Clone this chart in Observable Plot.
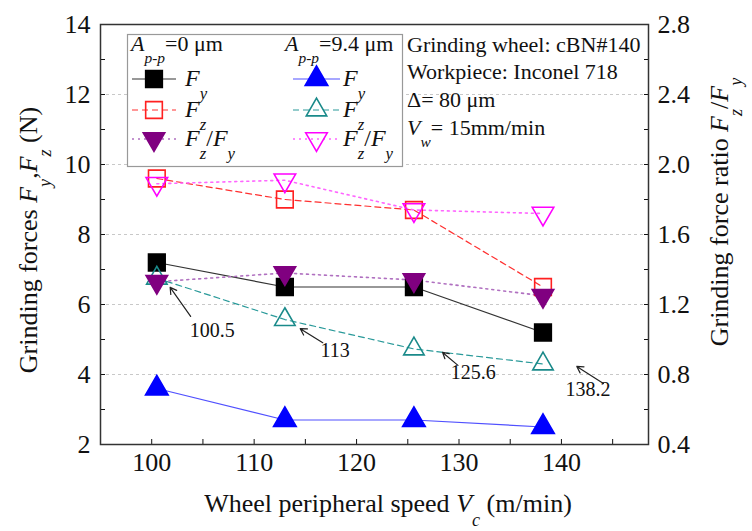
<!DOCTYPE html>
<html>
<head>
<meta charset="utf-8">
<script src="https://cdn.jsdelivr.net/npm/d3@7"></script>
<script src="https://cdn.jsdelivr.net/npm/@observablehq/plot@0.6"></script>
<style>
  html, body { margin: 0; padding: 0; background: #fff; }
  #chart svg { display: block; }
</style>
</head>
<body>
<div id="chart"></div>
<script>
// ---- Data ----
const speed = [100.5, 113, 125.6, 138.2];
const fy0 = [7.2, 6.5, 6.5, 5.2];          // Fy, Ap-p = 0 µm (N)
const fz0 = [9.6, 9.0, 8.7, 6.5];          // Fz, Ap-p = 0 µm (N)
const ratio0 = [1.33, 1.38, 1.34, 1.25];   // Fz/Fy, Ap-p = 0 µm
const fy94 = [3.6, 2.7, 2.7, 2.5];         // Fy, Ap-p = 9.4 µm (N)
const fz94 = [6.75, 5.57, 4.73, 4.3];      // Fz, Ap-p = 9.4 µm (N)
const ratio94 = [1.89, 1.91, 1.74, 1.72];  // Fz/Fy, Ap-p = 9.4 µm

const xTicks = [100, 105, 110, 115, 120, 125, 130, 135, 140, 145];
const yTicks = [2, 3, 4, 5, 6, 7, 8, 9, 10, 11, 12, 13, 14];
const ratioTicks = [0.4, 0.6, 0.8, 1.0, 1.2, 1.4, 1.6, 1.8, 2.0, 2.2, 2.4, 2.6, 2.8];
const gridY = [4, 6, 8, 10, 12];

// annotations (speed labels)
const annLabels = ["100.5", "113", "125.6", "138.2"];
const annTextX = [105.9, 117.9, 131.4, 142.6];
const annTextY = [5.26, 4.69, 4.06, 3.57];
const annTailX = [103.8, 116.7, 129.9, 144.1];
const annTailY = [5.66, 4.91, 4.26, 3.74];
const annHeadX = [101.8, 114.5, 128.4, 141.5];
const annHeadY = [6.49, 5.31, 4.63, 4.23];

const RATIO_FACTOR = 5; // right axis 0.4..2.8 maps onto left 2..14

const rows = (ys) => speed.map((s, i) => ({x: s, y: ys[i]}));
const ann = annLabels.map((t, i) => ({
  label: t, lx: annTextX[i], ly: annTextY[i],
  tx: annTailX[i], ty: annTailY[i], hx: annHeadX[i], hy: annHeadY[i]
}));

const triDown = {
  draw(ctx, size) {
    const s3 = Math.sqrt(3);
    const y = -Math.sqrt(size / (s3 * 3));
    ctx.moveTo(0, -y * 2);
    ctx.lineTo(-s3 * y, y);
    ctx.lineTo(s3 * y, y);
    ctx.closePath();
  }
};

const FONT = "'Liberation Serif', 'Times New Roman', serif";

const lineSpec = [
  {data: fy0, stroke: "#333", dash: null, w: 1.2},
  {data: fz0, stroke: "#ff3030", dash: "6,4", w: 1.2},
  {data: fy94, stroke: "#5050ff", dash: null, w: 1.2},
  {data: fz94, stroke: "#2a9a9a", dash: "6,4", w: 1.2},
  {data: ratio0.map(v => v * RATIO_FACTOR), stroke: "#b070c0", dash: "2,4", w: 1.6},
  {data: ratio94.map(v => v * RATIO_FACTOR), stroke: "#ff66ff", dash: "2,4", w: 1.6}
];

const dotSpec = [
  {data: fy0, symbol: "square", r: 9.4, fill: "#000", stroke: "#000"},
  {data: fz0, symbol: "square", r: 9.4, fill: "none", stroke: "#ff2020"},
  {data: fy94, symbol: "triangle", r: 8.4, fill: "#0000ff", stroke: "#0000ff"},
  {data: fz94, symbol: "triangle", r: 7.6, fill: "none", stroke: "#1a8a8a"},
  {data: ratio0.map(v => v * RATIO_FACTOR), symbol: triDown, r: 8.0, fill: "#800080", stroke: "#800080"},
  {data: ratio94.map(v => v * RATIO_FACTOR), symbol: triDown, r: 8.0, fill: "none", stroke: "#ff00ff"}
];

const chart = Plot.plot({
  width: 752,
  height: 531,
  marginLeft: 100,
  marginRight: 104,
  marginTop: 24,
  marginBottom: 87,
  style: {fontFamily: FONT, fontSize: "26px", background: "#fff", color: "#111"},
  x: {domain: [95, 148.5]},
  y: {domain: [2, 14]},
  marks: [
    Plot.ruleY(gridY, {stroke: "#c8c8c8", strokeDasharray: "3,3"}),
    Plot.axisX({ticks: xTicks, tickSize: -5, tickPadding: 13, label: null,
      tickFormat: d => d % 10 === 0 ? String(d) : "", fontSize: 26}),
    Plot.axisY({ticks: yTicks, tickSize: -5, tickPadding: 15, label: null,
      tickFormat: d => d % 2 === 0 ? String(d) : "", fontSize: 26}),
    Plot.axisY({anchor: "right", ticks: ratioTicks.map(v => v * RATIO_FACTOR), tickSize: -5, tickPadding: 14, label: null,
      tickFormat: d => (Math.round(d) % 2 === 0 ? (d / RATIO_FACTOR).toFixed(1) : ""), fontSize: 26}),
    ...lineSpec.map(s => Plot.line(rows(s.data), {x: "x", y: "y", stroke: s.stroke, strokeWidth: s.w, strokeDasharray: s.dash})),
    ...dotSpec.map(s => Plot.dot(rows(s.data), {x: "x", y: "y", symbol: s.symbol, r: s.r, fill: s.fill, stroke: s.stroke, strokeWidth: 1.6})),
    Plot.arrow(ann, {x1: "tx", y1: "ty", x2: "hx", y2: "hy", stroke: "#222", strokeWidth: 1.2, headLength: 9}),
    Plot.text(ann, {x: "lx", y: "ly", text: "label", fontSize: 20, fill: "#111"}),
    Plot.frame({stroke: "#333", strokeWidth: 1.5})
  ]
});

document.getElementById("chart").appendChild(chart);

// ---- rich text helpers (italic + subscripts) ----
const svg = d3.select(chart);
function rich(g, parts, size, anchor = "start") {
  const t = g.append("text").attr("font-family", FONT).attr("font-size", size)
    .attr("fill", "#111").attr("text-anchor", anchor);
  let pendingDy = 0;
  parts.forEach(p => {
    const [txt, kind] = Array.isArray(p) ? p : [p, null];
    if (kind === "sub") {
      const sh = size * 0.55;
      t.append("tspan").attr("dy", pendingDy + sh).attr("font-size", size * 0.7)
        .attr("font-style", "italic").text(txt);
      pendingDy = -sh;
    } else {
      const ts = t.append("tspan").attr("font-style", kind === "i" ? "italic" : null).text(txt);
      if (pendingDy) ts.attr("dy", pendingDy);
      pendingDy = 0;
    }
  });
  return t;
}

// axis titles
rich(svg.append("g").attr("transform", "translate(37,240) rotate(-90)"),
  ["Grinding forces ", ["F", "i"], ["y", "sub"], ",", ["F", "i"], ["z", "sub"], " (N)"], 26, "middle");
rich(svg.append("g").attr("transform", "translate(728,212) rotate(-90)"),
  ["Grinding force ratio ", ["F", "i"], ["z", "sub"], "/", ["F", "i"], ["y", "sub"]], 26, "middle");
rich(svg.append("g").attr("transform", "translate(388,512)"),
  ["Wheel peripheral speed ", ["V", "i"], ["c", "sub"], " (m/min)"], 26, "middle");

// legend box
const lg = svg.append("g");
lg.append("rect").attr("x", 127.5).attr("y", 34.5).attr("width", 275).attr("height", 132)
  .attr("fill", "#fff").attr("stroke", "#999").attr("stroke-width", 1.2);
rich(lg.append("g").attr("transform", "translate(131,51)"), [["A", "i"], ["p-p", "sub"], "=0 \u03bcm"], 22);
rich(lg.append("g").attr("transform", "translate(285,51)"), [["A", "i"], ["p-p", "sub"], "=9.4 \u03bcm"], 22);

const legRows = [
  {col: 0, row: 0, spec: 0, label: [["F", "i"], ["y", "sub"]]},
  {col: 0, row: 1, spec: 1, label: [["F", "i"], ["z", "sub"]]},
  {col: 0, row: 2, spec: 4, label: [["F", "i"], ["z", "sub"], "/", ["F", "i"], ["y", "sub"]]},
  {col: 1, row: 0, spec: 2, label: [["F", "i"], ["y", "sub"]]},
  {col: 1, row: 1, spec: 3, label: [["F", "i"], ["z", "sub"]]},
  {col: 1, row: 2, spec: 5, label: [["F", "i"], ["z", "sub"], "/", ["F", "i"], ["y", "sub"]]}
];
const rowY = [79, 110, 139];
legRows.forEach(r => {
  const x0 = r.col === 0 ? 132 : 293, x1 = r.col === 0 ? 176 : 340;
  const cx = (x0 + x1) / 2, cy = rowY[r.row];
  const ls = lineSpec[r.spec], ds = dotSpec[r.spec];
  lg.append("line").attr("x1", x0).attr("x2", x1).attr("y1", cy).attr("y2", cy)
    .attr("stroke", ls.stroke).attr("stroke-width", ls.w).attr("stroke-dasharray", ls.dash);
  const sym = typeof ds.symbol === "string" ? (ds.symbol === "square" ? d3.symbolSquare : d3.symbolTriangle) : ds.symbol;
  lg.append("path").attr("d", d3.symbol(sym, ds.r * ds.r * Math.PI)())
    .attr("transform", `translate(${cx},${cy})`)
    .attr("fill", ds.fill).attr("stroke", ds.stroke).attr("stroke-width", 1.6);
  rich(lg.append("g").attr("transform", `translate(${r.col === 0 ? 185 : 343},${cy + 7})`), r.label, 24);
});

// conditions text
const cond = svg.append("g");
rich(cond.append("g").attr("transform", "translate(407,52)"), ["Grinding wheel: cBN#140"], 22);
rich(cond.append("g").attr("transform", "translate(407,79)"), ["Workpiece: Inconel 718"], 22);
rich(cond.append("g").attr("transform", "translate(407,107)"), ["\u0394= 80 \u03bcm"], 22);
rich(cond.append("g").attr("transform", "translate(407,135)"), [["V", "i"], ["w", "sub"], "= 15mm/min"], 22);
</script>
</body>
</html>
